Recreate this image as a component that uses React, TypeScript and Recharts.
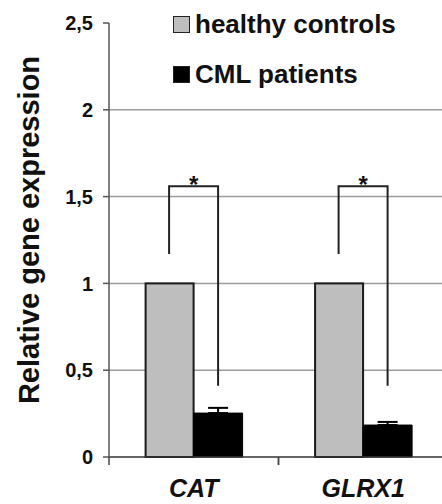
import React from 'react';
import { BarChart, Bar, XAxis, YAxis, CartesianGrid, ErrorBar } from 'recharts';

const categories = ['CAT', 'GLRX1'];
const healthyControls = [1, 1];
const cmlPatients = [0.253, 0.184];
const cmlError = [0.03, 0.018];
const bracketTop = [1.56, 1.56];
const bracketLeftEnd = [1.17, 1.17];
const bracketRightEnd = [0.41, 0.41];
const significance = ['*', '*'];
const yTicks = [0, 0.5, 1, 1.5, 2, 2.5];
const seriesNames = ['healthy controls', 'CML patients'];

const FONT = '"Liberation Sans", Arial, Helvetica, sans-serif';
const GRAY = '#bebebe';
const seriesColors = [GRAY, '#000'];

const data = categories.map((name, i) => ({
  name,
  healthy: healthyControls[i],
  cml: cmlPatients[i],
  cmlErr: [0, cmlError[i]],
}));

// gray bar + significance bracket (legs over both bars of the group)
const HealthyShape = (props: any) => {
  const { x, y, width, height, index, value } = props;
  const v = Array.isArray(value) ? value[1] - value[0] : value;
  const base = y + height;
  const perUnit = height / v;
  const top = base - bracketTop[index] * perUnit;
  const leftX = x + width / 2;
  const rightX = x + width * 1.5;
  return (
    <g>
      <rect x={x + 1} y={y} width={width - 1} height={height} fill={GRAY} stroke="#1a1a1a" strokeWidth={2} />
      <path
        d={`M${leftX},${base - bracketLeftEnd[index] * perUnit} L${leftX},${top} L${rightX},${top} L${rightX},${base - bracketRightEnd[index] * perUnit}`}
        fill="none"
        stroke="#222"
        strokeWidth={2}
      />
      <text x={(leftX + rightX) / 2} y={top + 7} textAnchor="middle" fontFamily={FONT} fontWeight="bold" fontSize={24} fill="#111">
        {significance[index]}
      </text>
    </g>
  );
};

const CategoryTick = (props: any) => {
  const { x, y, payload, width, visibleTicksCount } = props;
  const band = width / visibleTicksCount;
  return (
    <g>
      <line x1={x - band / 2} y1={y - 8} x2={x - band / 2} y2={y} stroke="#444" strokeWidth={1.5} />
      <line x1={x + band / 2} y1={y - 8} x2={x + band / 2} y2={y} stroke="#444" strokeWidth={1.5} />
      <text x={x} y={y + 32} textAnchor="middle" fontFamily={FONT} fontWeight="bold" fontStyle="italic" fontSize={25} fill="#111">
        {payload.value}
      </text>
    </g>
  );
};

const ChartLegend = () => (
  <div style={{ position: 'absolute', left: 173, top: -1, fontFamily: FONT, fontWeight: 'bold', fontSize: 26, color: '#111' }}>
    {seriesNames.map((name, i) => (
      <div key={name} style={{ display: 'flex', alignItems: 'center', height: 50, whiteSpace: 'nowrap' }}>
        <span
          style={{
            display: 'inline-block',
            width: 15,
            height: 15,
            background: seriesColors[i],
            border: '1.5px solid #222',
            marginRight: 5,
          }}
        />
        {name}
      </div>
    ))}
  </div>
);

export default function App() {
  return (
    <div style={{ position: 'absolute', left: 0, top: 0, width: 442, height: 504, overflow: 'hidden', background: '#fff' }}>
      <BarChart
        width={448}
        height={504}
        data={data}
        margin={{ top: 23, right: 0, bottom: 0, left: 0 }}
        barCategoryGap="21%"
        barGap={0}
      >
        <CartesianGrid horizontal vertical={false} stroke="#9a9a9a" strokeWidth={1.5} horizontalValues={[0.5, 1, 1.5, 2]} />
        <XAxis
          dataKey="name"
          height={47}
          axisLine={{ stroke: '#333', strokeWidth: 1.5 }}
          tickLine={false}
          tick={<CategoryTick />}
          interval={0}
        />
        <YAxis
          width={109}
          domain={[0, 2.5]}
          ticks={yTicks}
          interval={0}
          tickSize={6}
          tickMargin={10}
          axisLine={{ stroke: '#555', strokeWidth: 1.5 }}
          tickLine={{ stroke: '#555', strokeWidth: 1.5 }}
          tickFormatter={(v: number) => String(v).replace('.', ',')}
          tick={{ fontFamily: FONT, fontWeight: 'bold', fontSize: 20, fill: '#111' }}
          label={{
            content: ({ viewBox }: any) => (
              <text
                x={39}
                y={viewBox.y + viewBox.height / 2 - 10}
                transform={`rotate(-90 39 ${viewBox.y + viewBox.height / 2 - 10})`}
                textAnchor="middle"
                fontFamily={FONT}
                fontWeight="bold"
                fontSize={29}
                fill="#111"
              >
                Relative gene expression
              </text>
            ),
          }}
        />
        <Bar dataKey="healthy" name={seriesNames[0]} fill={GRAY} shape={<HealthyShape />} isAnimationActive={false} />
        <Bar dataKey="cml" name={seriesNames[1]} fill="#000" stroke="#000" isAnimationActive={false}>
          <ErrorBar dataKey="cmlErr" direction="y" width={10} stroke="#000" strokeWidth={2} />
        </Bar>
      </BarChart>
      <ChartLegend />
    </div>
  );
}
